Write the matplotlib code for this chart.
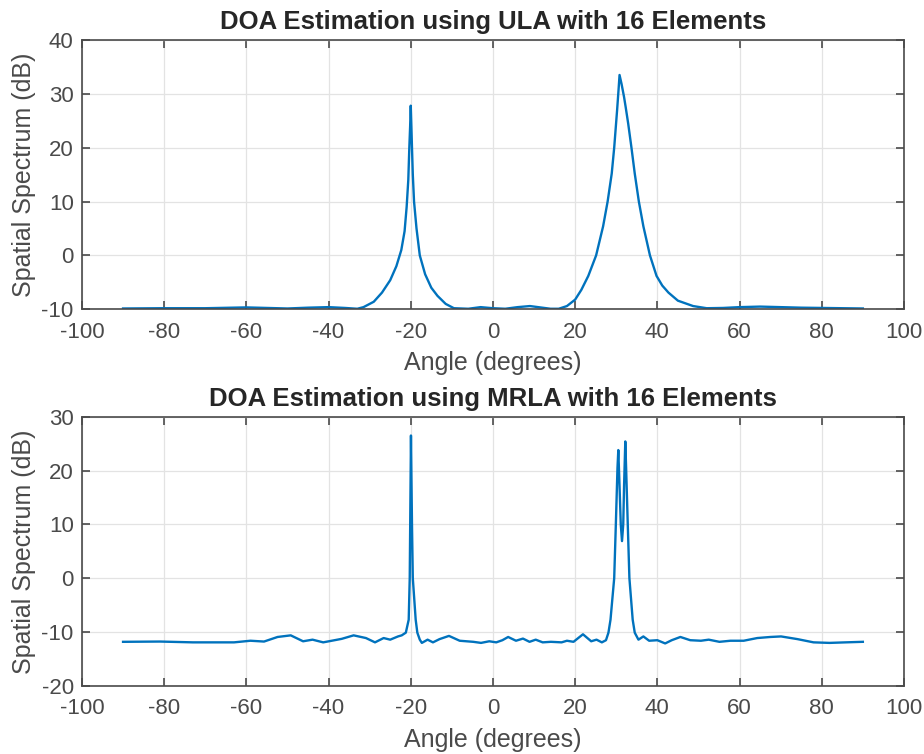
import numpy as np
import matplotlib
matplotlib.use('Agg')
import matplotlib.pyplot as plt

# ----------------------------------------------------------------------- #
# Spectrum values (angle in degrees, level in dB)
ula_angle = [-90, -80, -70, -60, -50, -45, -40, -36, -33, -31.5, -29, -27, -25,
             -23.5, -22.3, -21.5, -21.0, -20.6, -20.35, -20.15, -20.0, -19.85,
             -19.7, -19.5, -19.2, -18.6, -17.8, -16.5, -15, -13.5, -11.5, -9.5,
             -6, -3, 0, 3, 6, 9, 12, 14, 16, 18, 20, 21.5, 23.2, 25.1, 26.8, 27.9,
             28.9, 29.5, 30.2, 30.6, 30.8, 31.3, 31.9, 32.3, 32.9, 33.7, 34.5,
             35.5, 36.6, 38.2, 39.8, 41.2, 42.7, 45, 48.7, 52, 56, 60, 65, 70, 75,
             80, 85, 90]
ula_db = [-9.85, -9.8, -9.8, -9.65, -9.85, -9.7, -9.6, -9.75, -9.9, -9.6, -8.6,
          -6.9, -4.6, -2.0, 1.0, 4.5, 9.0, 14.0, 20.0, 24.0, 27.8, 24.0,
          20.0, 15.0, 10.0, 5.0, 0.0, -3.5, -6.0, -7.5, -9.0, -9.8,
          -9.9, -9.6, -9.8, -9.9, -9.6, -9.4, -9.7, -9.9, -9.9, -9.4, -8.2, -6.4,
          -3.8, 0.0, 5.4, 10.0, 15.2, 20.0, 26.9, 31.2, 33.5, 31.8, 29.4, 27.5,
          24.5, 20.0, 15.2, 10.0, 5.4, 0.0, -3.8, -5.6, -6.9, -8.4, -9.4, -9.8,
          -9.75, -9.6, -9.5, -9.6, -9.7, -9.75, -9.8, -9.85]

mrla_angle = [-90, -81, -73, -63, -59, -55.7, -52.4, -49.2, -46.2, -43.9, -41.3,
              -36.8, -33.9, -30.9, -28.7, -26.6, -25.0, -23.1, -22.2, -21.2,
              -20.5, -20.25, -19.95, -19.7, -19.5, -18.8, -18.4, -17.8, -17.3,
              -15.9, -14.6, -13.0, -10.7, -8.1, -4.8, -2.9, -0.9, 0.8, 2.3, 3.7,
              5.6, 7.3, 8.9, 10.4, 12.1, 14.1, 16.7, 18.0, 19.6, 21.9, 23.9, 25.2,
              26.5, 27.5, 28.1, 28.6, 29.5, 29.9, 30.3, 30.5, 30.8, 31.1, 31.4,
              31.7, 31.9, 32.2, 32.4, 32.8, 33.2, 34.0, 34.5, 35.4, 36.6, 38.0,
              40.0, 41.9, 43.5, 45.6, 48.0, 50.6, 52.5, 55.1, 57.8, 61.0, 64.3,
              67.5, 70.1, 74.1, 78.0, 81.9, 85.8, 90]
mrla_db = [-11.8, -11.75, -11.9, -11.9, -11.6, -11.75, -10.9, -10.6, -11.7,
           -11.4, -11.9, -11.25, -10.6, -11.1, -11.9, -11.1, -11.4, -10.8,
           -10.6, -10.1, -7.7, 0.0, 26.5, 10.0, 0.0, -7.7, -10.1, -11.4, -12.0,
           -11.4, -11.9, -11.3, -10.7, -11.6, -11.8, -12.0, -11.7, -11.9, -11.5,
           -10.9, -11.6, -11.2, -11.8, -11.4, -11.9, -11.8, -11.9, -11.6, -11.8,
           -10.4, -11.7, -11.4, -11.9, -11.5, -10.1, -7.7, 0.0, 10.0, 20.5, 23.8,
           17.1, 10.0, 6.9, 10.0, 17.1, 25.4, 20.5, 10.0, 0.0, -7.7, -10.1, -11.4,
           -10.8, -11.6, -11.5, -12.1, -11.5, -10.9, -11.5, -11.6, -11.4, -11.8,
           -11.6, -11.6, -11.1, -10.9, -10.8, -11.3, -11.9, -12.0, -11.9, -11.8]

titles = ['DOA Estimation using ULA with 16 Elements',
          'DOA Estimation using MRLA with 16 Elements']
xticks = np.arange(-100, 101, 20)
ylims = [(-10, 40), (-20, 30)]

# ----------------------------------------------------------------------- #
plt.rcParams['font.family'] = ['Liberation Sans', 'DejaVu Sans']
plt.rcParams['axes.unicode_minus'] = False
txt_col = '#262626'
tick_col = '#4a4a4a'

fig = plt.figure(figsize=(9.24, 7.54), dpi=100)
ax1 = fig.add_axes([0.0887, 0.5898, 0.8896, 0.3572])
ax2 = fig.add_axes([0.0887, 0.0902, 0.8896, 0.3572])

series = [(ula_angle, ula_db), (mrla_angle, mrla_db)]
for ax, (ang, db), title, ylim in zip([ax1, ax2], series, titles, ylims):
    ax.plot(ang, db, color='#0072BD', lw=1.7)
    ax.set_xlim(-100, 100)
    ax.set_ylim(*ylim)
    ax.set_xticks(xticks)
    ax.set_yticks(np.arange(ylim[0], ylim[1] + 1, 10))
    ax.grid(True, color='#e3e3e3', lw=0.9)
    ax.set_axisbelow(True)
    ax.tick_params(direction='in', length=6, width=1.2, top=True, right=True,
                   labelsize=16, colors=tick_col)
    ax.tick_params(axis='x', pad=9)
    ax.tick_params(axis='y', pad=6)
    for s in ax.spines.values():
        s.set_color(tick_col)
        s.set_linewidth(1.2)
    ax.set_title(title, fontsize=18.5, fontweight='bold', color=txt_col, pad=8)
    ax.set_xlabel('Angle (degrees)', fontsize=18, color=tick_col, labelpad=6)
    ax.set_ylabel('Spatial Spectrum (dB)', fontsize=18, color=tick_col, labelpad=4)

fig.savefig('out.png', dpi=100)
